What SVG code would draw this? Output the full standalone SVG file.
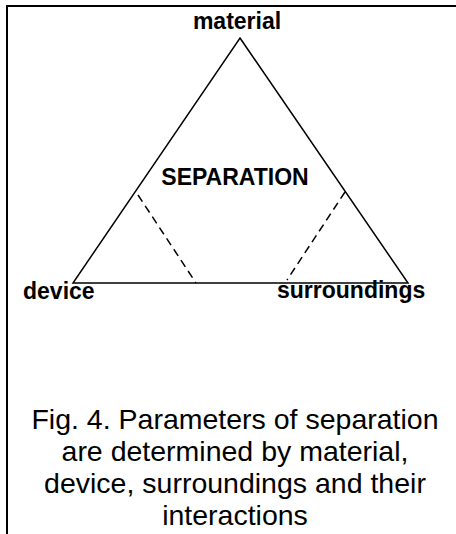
<svg xmlns="http://www.w3.org/2000/svg" width="456" height="534" viewBox="0 0 456 534">
<style>
.lbl{font-family:"Liberation Sans",Arial,sans-serif;font-weight:bold;font-size:23px;fill:#000}
.cap{font-family:"Liberation Sans",Arial,sans-serif;font-size:28.5px;fill:#000;text-anchor:middle}
.solid{fill:none;stroke:#000;stroke-width:1.5;stroke-linejoin:miter}
.dash{fill:none;stroke:#000;stroke-width:1.5;stroke-dasharray:8 5}
</style>
<rect width="456" height="534" fill="#fff"/>
<path d="M7,534 V6 H456" fill="none" stroke="#000" stroke-width="2"/>
<g id="triangle">
<path class="solid" d="M240,38 L408,283 L73,283 Z"/>
</g>
<g id="connectors">
<path class="dash" d="M138,195 L196,283"/>
<path class="dash" d="M345,192 L287,280"/>
</g>
<g id="node-material"><text class="lbl" x="237" y="29" text-anchor="middle">material</text></g>
<g id="node-separation"><text class="lbl" x="235" y="185" text-anchor="middle">SEPARATION</text></g>
<g id="node-device"><text class="lbl" x="23" y="299">device</text></g>
<g id="node-surroundings"><text class="lbl" x="277" y="298">surroundings</text></g>
<g id="caption">
<text class="cap" x="235" y="429">Fig. 4. Parameters of separation</text>
<text class="cap" x="235" y="461">are determined by material,</text>
<text class="cap" x="235" y="493">device, surroundings and their</text>
<text class="cap" x="235" y="525">interactions</text>
</g>
</svg>
